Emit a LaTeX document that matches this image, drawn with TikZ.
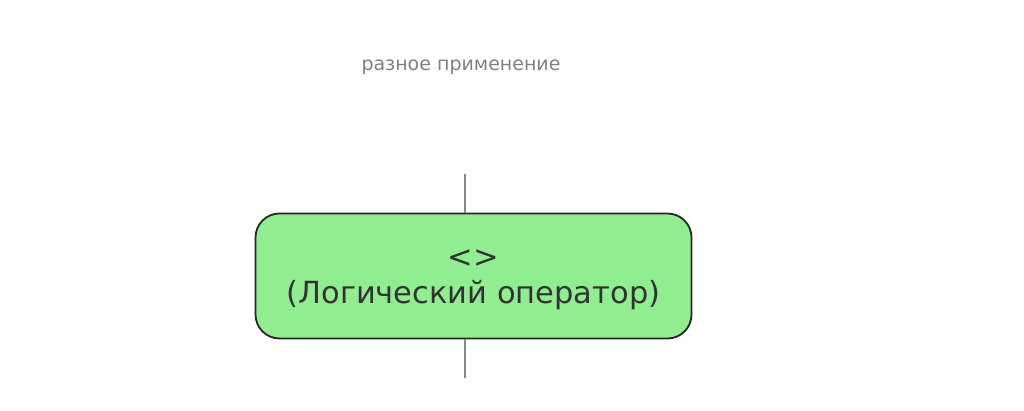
\documentclass[tikz,border=0pt]{standalone}
\usepackage{fontspec}
\setmainfont{DejaVu Sans}
\definecolor{boxgreen}{HTML}{90EE90}
\definecolor{txtdark}{HTML}{333333}
\definecolor{lbl}{HTML}{808080}
\definecolor{edge}{HTML}{888888}
\begin{document}
\begin{tikzpicture}[x=1pt,y=-1pt,
  opbox/.style={draw=black!85,line width=1.8pt,fill=boxgreen,rounded corners=24pt,
    minimum width=436pt,minimum height=125pt,inner sep=0pt},
  optext/.style={align=center,text=txtdark,
    font=\fontsize{30.5}{36}\selectfont,inner sep=0pt},
  lbltext/.style={text=lbl,font=\fontsize{19}{22}\selectfont,inner sep=0pt},
  conn/.style={draw=edge,line width=1.8pt}]
\useasboundingbox (0,0) rectangle (1024,410);
\node[lbltext] (lab) at (461,67) {разное применение};
\coordinate (top) at (465,174);
\coordinate (bot) at (465,378);
\node[opbox] (op) at (473.5,276) {};
\node[optext] (opt) at ([yshift=-4pt]op.center) {<>\\(Логический оператор)};
\draw[conn] (top) -- (op.north -| top);
\draw[conn] (op.south -| bot) -- (bot);
\end{tikzpicture}
\end{document}
